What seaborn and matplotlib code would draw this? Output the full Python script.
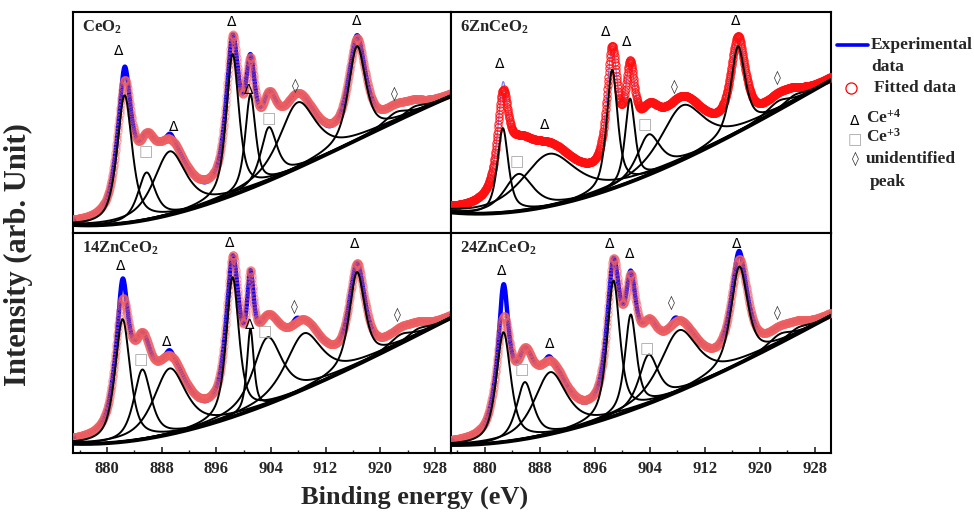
import numpy as np
import matplotlib
matplotlib.use("Agg")
import matplotlib.pyplot as plt
import seaborn as sns
from matplotlib.lines import Line2D
from matplotlib.ticker import MultipleLocator

sns.set_theme(style="white")
plt.rcParams['font.family'] = ['Liberation Serif', 'DejaVu Sans']
plt.rcParams['mathtext.fontset'] = 'custom'
plt.rcParams['mathtext.rm'] = 'Liberation Serif:bold'
plt.rcParams['mathtext.bf'] = 'Liberation Serif:bold'
plt.rcParams['mathtext.it'] = 'Liberation Serif:bold'

# ---------------- data ----------------
sample_names = ["CeO$_2$", "6ZnCeO$_2$", "14ZnCeO$_2$", "24ZnCeO$_2$"]
peak_kinds = ["Δ", "□", "Δ", "Δ", "Δ", "□", "◊", "Δ", "◊"]

# component centres (eV), heights above background (a.u.), FWHM (eV)
ceo2_centers = [882.6, 885.8, 889.2, 898.4, 901.0, 903.7, 907.9, 916.6, 922.3, 925.0]
ceo2_heights = [127, 47, 63, 140, 93, 53, 65, 93, 9, 6]
ceo2_fwhm = [2.6, 3.0, 5.6, 2.2, 1.8, 2.8, 6.3, 3.0, 4.0, 3.5]

zn6_centers = [882.6, 884.9, 889.3, 898.5, 901.1, 903.8, 908.7, 916.8, 922.7, 925.0]
zn6_heights = [84, 37, 52, 118, 83, 40, 54, 85, 9, 6]
zn6_fwhm = [1.9, 5.0, 9.5, 1.9, 1.7, 4.0, 7.5, 2.5, 4.0, 3.5]

zn14_centers = [882.3, 885.2, 889.2, 898.4, 901.0, 903.5, 908.8, 916.6, 923.0, 925.5]
zn14_heights = [123, 70, 66, 140, 82, 67, 56, 93, 9, 6]
zn14_fwhm = [2.6, 3.0, 5.6, 2.2, 1.2, 5.0, 6.3, 2.7, 4.0, 3.5]

zn24_centers = [882.7, 885.8, 889.5, 898.7, 901.2, 903.8, 908.2, 917.0, 922.9, 925.5]
zn24_heights = [110, 57, 62, 136, 96, 49, 61, 97, 9, 6]
zn24_fwhm = [2.5, 2.9, 5.6, 2.2, 2.0, 3.3, 6.5, 2.9, 4.0, 3.5]

# background (a.u.) read at these energies
bg_energy = [875.0, 881.5, 889.2, 898.4, 908.5, 918.2, 929.5]
ceo2_bg = [8, 9, 20, 37, 65, 100, 133]
zn6_bg = [20, 21, 27, 44, 70, 108, 148]
zn14_bg = [9, 10, 19, 36, 62, 94, 132]
zn24_bg = [8, 9, 19, 36, 62, 94, 134]

# experimental minus fitted: bumps (centre eV, amplitude a.u., FWHM eV)
ceo2_res_c = [882.6, 889.3, 901.0, 916.6, 912.5, 894.5]
ceo2_res_h = [13, 5, 3, 3, -3, -3]
ceo2_res_w = [1.0, 1.0, 0.8, 1.0, 2.5, 2.0]
zn6_res_c = [882.6, 889.5, 907.6]
zn6_res_h = [8, 3, 4]
zn6_res_w = [0.8, 1.2, 1.0]
zn14_res_c = [882.3, 889.2, 907.7, 894.5]
zn14_res_h = [20, 5, 4, -3]
zn14_res_w = [1.0, 1.0, 1.0, 2.0]
zn24_res_c = [882.7, 889.3, 901.2, 916.9, 907.6, 894.5]
zn24_res_h = [32, 4, 3, 8, 4, -3]
zn24_res_w = [1.0, 1.0, 0.8, 1.0, 1.0, 2.0]

# peak-label anchors (eV, a.u.)
ceo2_lab_e = [881.7, 885.7, 889.8, 898.2, 900.8, 903.7, 907.6, 916.5, 922.1]
ceo2_lab_i = [181, 81, 106, 210, 142, 114, 147, 211, 139]
zn6_lab_e = [882.1, 884.65, 888.7, 897.6, 900.65, 903.2, 907.6, 916.5, 922.6]
zn6_lab_i = [168, 71, 108, 200, 190, 108, 146, 211, 154]
zn14_lab_e = [882.05, 885.0, 888.8, 897.9, 900.9, 903.1, 907.4, 916.2, 922.5]
zn14_lab_i = [187, 93, 111, 210, 128, 121, 146, 209, 138]
zn24_lab_e = [882.4, 885.4, 889.35, 898.1, 901.05, 903.5, 907.1, 916.65, 922.6]
zn24_lab_i = [182, 83, 109, 209, 199, 104, 150, 209, 140]

major_ticks = [880, 888, 896, 904, 912, 920, 928]

panels = [
    (ceo2_centers, ceo2_heights, ceo2_fwhm, ceo2_bg, ceo2_res_c, ceo2_res_h, ceo2_res_w, ceo2_lab_e, ceo2_lab_i),
    (zn6_centers, zn6_heights, zn6_fwhm, zn6_bg, zn6_res_c, zn6_res_h, zn6_res_w, zn6_lab_e, zn6_lab_i),
    (zn14_centers, zn14_heights, zn14_fwhm, zn14_bg, zn14_res_c, zn14_res_h, zn14_res_w, zn14_lab_e, zn14_lab_i),
    (zn24_centers, zn24_heights, zn24_fwhm, zn24_bg, zn24_res_c, zn24_res_h, zn24_res_w, zn24_lab_e, zn24_lab_i),
]

energy = np.arange(875.0, 930.5, 0.05)
ETA = 0.7


def pseudo_voigt(x, c, h, w, eta=ETA):
    g = np.exp(-4 * np.log(2) * (x - c) ** 2 / w ** 2)
    l = 1.0 / (1.0 + 4 * (x - c) ** 2 / w ** 2)
    return h * ((1 - eta) * g + eta * l)


fig = plt.figure(figsize=(9.74, 5.16), dpi=100)
L, M, R = 72.7 / 974, 450.6 / 974, 830.7 / 974
T, MY, B = 1 - 11.7 / 516, 1 - 233.3 / 516, 1 - 452.7 / 516
rects = [(L, MY, M - L, T - MY), (M, MY, R - M, T - MY),
         (L, B, M - L, MY - B), (M, B, R - M, MY - B)]

kind_color = {"Δ": "black", "□": "#a8a8a8", "◊": "#333333"}
kind_size = {"Δ": 10, "□": 11, "◊": 10}

for idx, (cen, hei, fw, bgv, rc, rh, rw, le, li) in enumerate(panels):
    ax = fig.add_axes(rects[idx])
    coef = np.polyfit(bg_energy, bgv, 3)
    bg = np.polyval(coef, energy)
    comps = [pseudo_voigt(energy, c, h, w) for c, h, w in zip(cen, hei, fw)]
    fit = bg + np.sum(comps, axis=0)
    exp_data = fit + np.sum([pseudo_voigt(energy, c, h, w, 0.0) for c, h, w in zip(rc, rh, rw)], axis=0)

    if idx == 1:
        sns.lineplot(x=energy, y=exp_data, ax=ax, color="#8080ff", lw=0.9, zorder=2)
        ax.plot(energy, fit, ls="", marker="o", ms=5.2, mfc="none", mec="#ff1010",
                mew=0.8, alpha=0.85, zorder=3)
    else:
        sns.lineplot(x=energy, y=exp_data, ax=ax, color="#0000ff", lw=3.2, zorder=2)
        ax.plot(energy, fit, ls="", marker="o", ms=5.2, mfc="none", mec="#f06060",
                mew=0.8, alpha=0.5, zorder=3)
    for comp in comps:
        sns.lineplot(x=energy, y=bg + comp, ax=ax, color="black", lw=1.4, zorder=4)
    sns.lineplot(x=energy, y=bg, ax=ax, color="black", lw=2.8, zorder=5)

    for k, e, i in zip(peak_kinds, le, li):
        ax.text(e, i, k, ha="center", va="center", fontsize=kind_size[k],
                color=kind_color[k], family=["DejaVu Sans"], zorder=6)

    ax.text(0.024, 0.93, sample_names[idx], transform=ax.transAxes, fontsize=12,
            fontweight="bold", ha="left", va="center")

    ax.set_xlim(875.0, 930.3)
    ax.set_ylim(0, 220)
    ax.set_yticks([])
    ax.set_xticks(major_ticks)
    ax.xaxis.set_minor_locator(MultipleLocator(4))
    for sp in ax.spines.values():
        sp.set_color("black")
        sp.set_linewidth(1.5)
    if idx >= 2:
        ax.tick_params(axis="x", which="major", direction="in", length=4, width=1.2,
                       labelsize=12, pad=6, bottom=True)
        ax.tick_params(axis="x", which="minor", direction="in", length=2, width=1.0, bottom=True)
        for lab in ax.get_xticklabels():
            lab.set_fontweight("bold")
    else:
        ax.tick_params(axis="x", which="both", bottom=False, labelbottom=False)
    ax.set_xlabel("")
    ax.set_ylabel("")

fig.text(0.426, 0.037, "Binding energy (eV)", ha="center", va="center",
         fontsize=19, fontweight="bold")
fig.text(0.0185, 0.506, "Intensity (arb. Unit)", ha="center", va="center",
         rotation=90, fontsize=22, fontweight="bold")

# ---- legend, built by hand to follow the reference layout ----
def fx(px):
    return px / 974


def fy(py):
    return 1 - py / 516


fig.add_artist(Line2D([fx(837), fx(868)], [fy(45), fy(45)], color="#0000ff", lw=2.6))
fig.add_artist(Line2D([fx(851)], [fy(88)], ls="", marker="o", ms=8, mfc="none",
                      mec="red", mew=0.9))
leg_font = dict(fontsize=12.5, fontweight="bold", ha="left", va="center")
fig.text(fx(871), fy(45), "Experimental", **leg_font)
fig.text(fx(871), fy(67), "data", **leg_font)
fig.text(fx(874), fy(88), "Fitted data", **leg_font)
fig.text(fx(855), fy(121), "Δ", fontsize=10, color="black", ha="center", va="center",
         family=["DejaVu Sans"])
fig.text(fx(866), fy(118), "Ce$^{+4}$", **leg_font)
fig.text(fx(855), fy(140), "□", fontsize=11, color="#a8a8a8", ha="center", va="center",
         family=["DejaVu Sans"])
fig.text(fx(866), fy(137), "Ce$^{+3}$", **leg_font)
fig.text(fx(855), fy(159), "◊", fontsize=10, color="#333333", ha="center", va="center",
         family=["DejaVu Sans"])
fig.text(fx(866), fy(159), "unidentified", **leg_font)
fig.text(fx(870), fy(182), "peak", **leg_font)

fig.savefig("out.png", dpi=100)
